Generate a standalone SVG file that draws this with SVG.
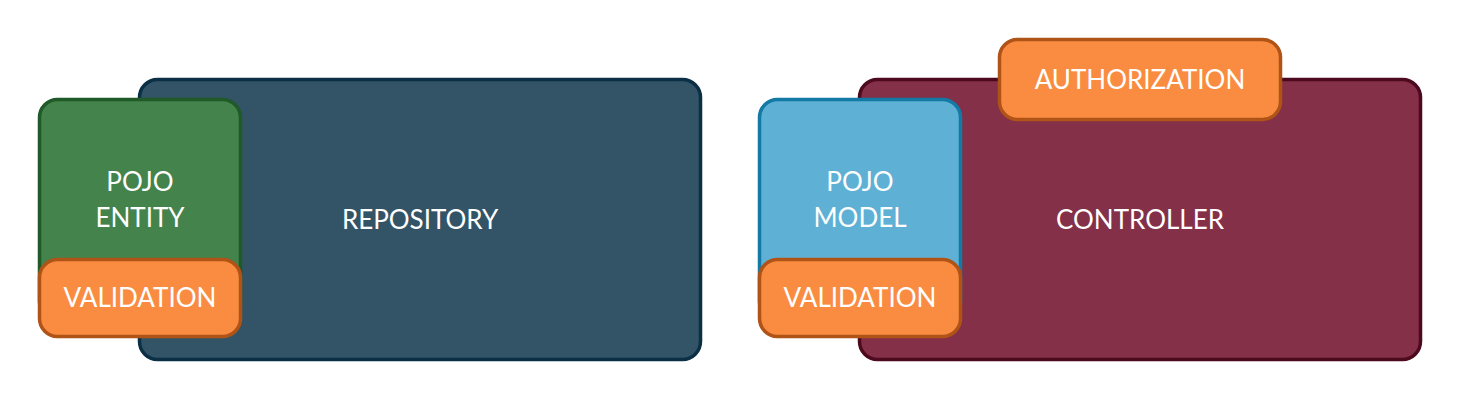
<svg xmlns="http://www.w3.org/2000/svg" width="1461" height="401" viewBox="0 0 1461 401">
  <style>
    .box { stroke-width: 3.5; }
    .lbl { font-family: Lato, "Liberation Sans", sans-serif; font-size: 26px; fill: #ffffff; text-anchor: middle; }
    .repo { fill: #335466; stroke: #0b2f45; }
    .entity { fill: #44834c; stroke: #1f5a28; }
    .orange { fill: #fa8c42; stroke: #b05317; }
    .ctrl { fill: #833048; stroke: #4d0a1e; }
    .model { fill: #5eb0d5; stroke: #137aa5; }
  </style>
  <rect width="1461" height="401" fill="#ffffff"/>
  <g id="connectors"></g>
  <g id="repository">
    <rect class="box repo" x="139.5" y="79.5" width="561" height="280" rx="18"/>
    <text class="lbl" x="420" y="229">REPOSITORY</text>
  </g>
  <g id="pojo-entity">
    <rect class="box entity" x="39.5" y="99.5" width="201" height="220" rx="18"/>
    <text class="lbl" x="140" y="191">POJO</text>
    <text class="lbl" x="140" y="227">ENTITY</text>
  </g>
  <g id="validation-entity">
    <rect class="box orange" x="39.5" y="259.5" width="201" height="77" rx="18"/>
    <text class="lbl" x="140" y="307">VALIDATION</text>
  </g>
  <g id="controller">
    <rect class="box ctrl" x="859.5" y="79.5" width="561" height="280" rx="18"/>
    <text class="lbl" x="1140" y="229">CONTROLLER</text>
  </g>
  <g id="authorization">
    <rect class="box orange" x="999.5" y="39.5" width="281" height="80" rx="18"/>
    <text class="lbl" x="1140" y="89">AUTHORIZATION</text>
  </g>
  <g id="pojo-model">
    <rect class="box model" x="759.5" y="99.5" width="201" height="220" rx="18"/>
    <text class="lbl" x="860" y="191">POJO</text>
    <text class="lbl" x="860" y="227">MODEL</text>
  </g>
  <g id="validation-model">
    <rect class="box orange" x="759.5" y="259.5" width="201" height="77" rx="18"/>
    <text class="lbl" x="860" y="307">VALIDATION</text>
  </g>
</svg>
